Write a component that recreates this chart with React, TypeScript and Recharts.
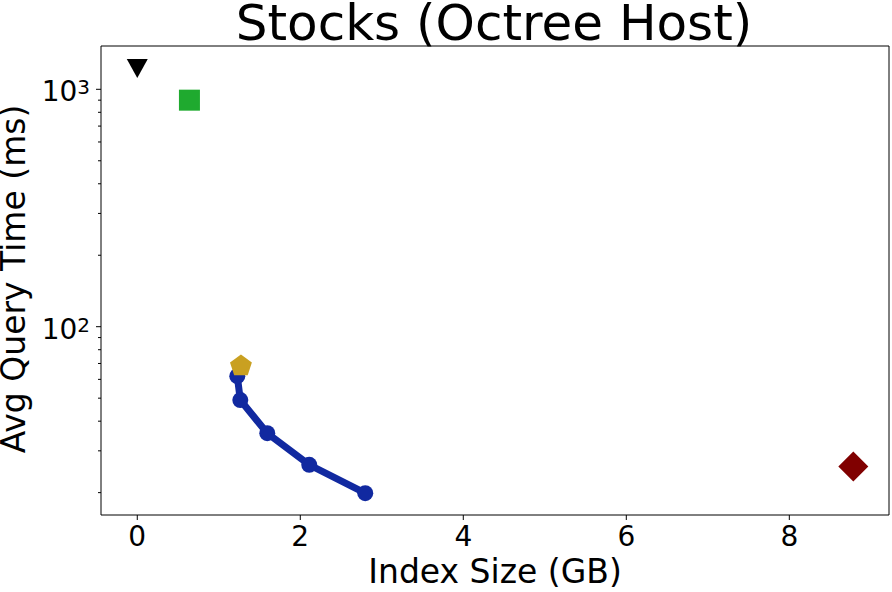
import React from 'react';
import { ScatterChart, Scatter, XAxis, YAxis, ReferenceArea } from 'recharts';

// index size (GB) vs avg query time (ms)
const octreeSizes = [1.227, 1.264, 1.595, 2.11, 2.797];
const octreeTimes = [61.9, 49.1, 35.6, 26.2, 19.9];

const triangleSize = [0];
const triangleTime = [1224];
const squareSize = [0.64];
const squareTime = [900];
const pentagonSize = [1.272];
const pentagonTime = [69];
const diamondSize = [8.785];
const diamondTime = [25.8];

const xTicks = [0, 2, 4, 6, 8];
const yTicks = [20, 30, 40, 50, 60, 70, 80, 90, 100, 200, 300, 400, 500, 600, 700, 800, 900, 1000];
const xDomain = [-0.445, 9.223];
const yDomain = [16.1, 1522];

const toPoints = (xs: number[], ys: number[]) => xs.map((x, i) => ({ x, y: ys[i] }));

const BLUE = '#1129a0';

const Circle = ({ cx, cy }: any) => <circle cx={cx} cy={cy} r={8} fill={BLUE} />;

const TriangleDown = ({ cx, cy }: any) => (
  <polygon points={`${cx - 10.5},${cy - 9.5} ${cx + 10.5},${cy - 9.5} ${cx},${cy + 9.5}`} fill="#000" />
);

const Square = ({ cx, cy }: any) => <rect x={cx - 10.5} y={cy - 10.5} width={21} height={21} fill="#1faa2f" />;

const Pentagon = ({ cx, cy }: any) => {
  const r = 11.5;
  const pts = [0, 1, 2, 3, 4]
    .map((k) => {
      const a = ((-90 + 72 * k) * Math.PI) / 180;
      return `${cx + r * Math.cos(a)},${cy + 1 + r * Math.sin(a)}`;
    })
    .join(' ');
  return <polygon points={pts} fill="#c9a021" />;
};

const Diamond = ({ cx, cy }: any) => (
  <polygon points={`${cx},${cy - 15} ${cx + 15},${cy} ${cx},${cy + 15} ${cx - 15},${cy}`} fill="#800000" />
);

const YTick = ({ x, y, payload }: any) => {
  const v = payload.value;
  const exp = Math.round(Math.log10(v));
  const major = Math.abs(Math.pow(10, exp) - v) < 1e-6;
  return (
    <g>
      <line x1={x - (major ? 5 : 3)} x2={x} y1={y} y2={y} stroke="#000" strokeWidth={1} />
      {major && (
        <text x={x - 11} y={y + 12} textAnchor="end" fontSize={28} fill="#000">
          10
          <tspan dy={-7} fontSize={20}>
            {exp}
          </tspan>
        </text>
      )}
    </g>
  );
};

export default function App() {
  return (
    <div
      style={{
        position: 'fixed',
        left: 0,
        top: 0,
        width: 892,
        height: 592,
        background: '#fff',
        fontFamily: '"DejaVu Sans", sans-serif',
      }}
    >
      <ScatterChart width={892} height={592} margin={{ top: 46, right: 3, left: 0, bottom: 0 }}>
        <XAxis
          type="number"
          dataKey="x"
          domain={xDomain}
          ticks={xTicks}
          allowDataOverflow
          axisLine={false}
          tickSize={5}
          tickMargin={6}
          tickLine={{ stroke: '#000' }}
          tick={{ fontSize: 28, fill: '#000' }}
          height={77}
        />
        <YAxis
          type="number"
          dataKey="y"
          scale="log"
          domain={yDomain}
          ticks={yTicks}
          allowDataOverflow
          axisLine={false}
          tickLine={false}
          tickSize={0}
          tickMargin={0}
          tick={<YTick />}
          interval={0}
          width={101}
        />
        <ReferenceArea
          x1={xDomain[0]}
          x2={xDomain[1]}
          y1={yDomain[0]}
          y2={yDomain[1]}
          fill="none"
          stroke="#000"
          strokeWidth={1}
          ifOverflow="visible"
        />
        <Scatter
          data={toPoints(octreeSizes, octreeTimes)}
          fill={BLUE}
          stroke={BLUE}
          strokeWidth={7}
          line={{ stroke: BLUE, strokeWidth: 7 }}
          shape={(p: any) => <Circle {...p} />}
          isAnimationActive={false}
        />
        <Scatter data={toPoints(triangleSize, triangleTime)} shape={(p: any) => <TriangleDown {...p} />} isAnimationActive={false} />
        <Scatter data={toPoints(squareSize, squareTime)} shape={(p: any) => <Square {...p} />} isAnimationActive={false} />
        <Scatter data={toPoints(pentagonSize, pentagonTime)} shape={(p: any) => <Pentagon {...p} />} isAnimationActive={false} />
        <Scatter data={toPoints(diamondSize, diamondTime)} shape={(p: any) => <Diamond {...p} />} isAnimationActive={false} />
      </ScatterChart>
      <svg width={892} height={592} style={{ position: 'absolute', left: 0, top: 0, pointerEvents: 'none' }}>
        <text x={494} y={40} textAnchor="middle" fontSize={50} fill="#000">
          Stocks (Octree Host)
        </text>
        <text x={495} y={583} textAnchor="middle" fontSize={33} fill="#000">
          Index Size (GB)
        </text>
        <text transform="translate(25,279) rotate(-90)" textAnchor="middle" fontSize={33} fill="#000">
          Avg Query Time (ms)
        </text>
      </svg>
    </div>
  );
}
